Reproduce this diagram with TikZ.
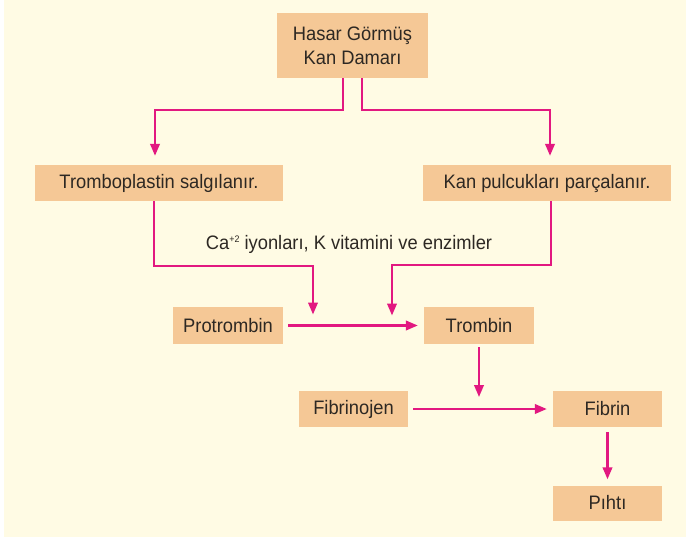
\documentclass[tikz,border=0pt]{standalone}
\usepackage{fontspec}
\setmainfont{Liberation Sans}[FakeStretch=0.94]
\usepackage{xcolor}
\usetikzlibrary{arrows.meta}
\definecolor{paper}{RGB}{255,251,228}
\definecolor{boxfill}{RGB}{245,200,150}
\definecolor{pinkline}{RGB}{226,24,128}
\definecolor{ink}{RGB}{45,40,35}
\newcommand{\ionsup}[1]{\raisebox{7pt}{\fontsize{9.5}{10}\selectfont #1}}
\tikzset{
  stage/.style={rectangle, fill=boxfill, draw=none, align=center, inner sep=2pt,
                text=ink, font=\fontsize{19.5}{24}\selectfont},
  note/.style ={text=ink, inner sep=1pt, font=\fontsize{19.5}{24}\selectfont},
  flow/.style ={-{Triangle[length=12pt,width=9.5pt]}, draw=pinkline, line width=2.3pt},
}
\begin{document}
\begin{tikzpicture}[x=1pt,y=-1pt]
\fill[white] (0,0) rectangle (686,541);
\fill[paper] (4,0) rectangle (686,537);
\useasboundingbox (0,0) rectangle (686,541);
% --- top ---
\node[stage, minimum width=151pt, minimum height=65pt] (hasar) at (352.5,45.5) {Hasar Görmüş\\Kan Damarı};
% --- two reactions ---
\node[stage, minimum width=248pt, minimum height=36pt] (trombo) at (159,183) {Tromboplastin salgılanır.};
\node[stage, minimum width=248pt, minimum height=36pt] (kan)    at (547,183) {Kan pulcukları parçalanır.};
\node[note] (ca) at (349,244) {Ca\ionsup{+2} iyonları, K vitamini ve enzimler};
% --- chain ---
\node[stage, minimum width=110pt, minimum height=37pt] (protro)     at (228,325.5)   {Protrombin};
\node[stage, minimum width=110pt, minimum height=37pt] (trombin)    at (479,325.5)   {Trombin};
\node[stage, minimum width=109pt, minimum height=36pt] (fibrinojen) at (353.5,409) {Fibrinojen};
\node[stage, minimum width=109pt, minimum height=36pt] (fibrin)     at (607.5,409) {Fibrin};
\node[stage, minimum width=109pt, minimum height=35pt] (pihti)      at (607.5,503) {Pıhtı};
% join points on the horizontal arrows
\coordinate (caL) at (313,325.5);
\coordinate (caR) at (392,325.5);
\coordinate (fibjoin) at (trombin.south |- fibrin.west);
% arrows: vessel -> reactions
\draw[flow, shorten >=9pt] ([xshift=-9.5pt]hasar.south) -- ++(0,32) -| ([xshift=-4pt]trombo.north);
\draw[flow, shorten >=9pt] ([xshift=9.5pt]hasar.south) -- ++(0,32) -| ([xshift=3pt]kan.north);
% reactions -> protrombin/trombin step
\draw[flow, shorten >=11pt] ([xshift=-5pt]trombo.south) -- ++(0,65) -| (caL);
\draw[flow, shorten >=10pt] ([xshift=4pt]kan.south) -- ++(0,64) -| (caR);
% chain
\foreach \a/\b in {protro/trombin,fibrinojen/fibrin} {\draw[flow, shorten <=5pt, shorten >=6pt] (\a.east) -- (\b.west);}
\draw[flow, shorten <=3pt, shorten >=12pt] (trombin.south) -- (fibjoin);
\draw[flow, shorten <=5pt, shorten >=6pt] (fibrin.south) -- (pihti.north);
\end{tikzpicture}
\end{document}
